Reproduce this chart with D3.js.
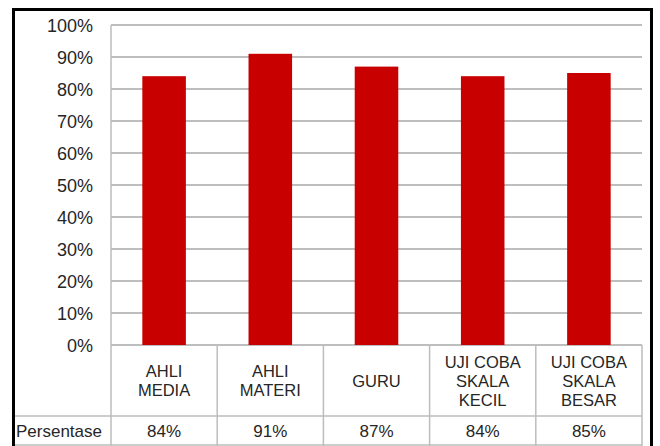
<!DOCTYPE html>
<html>
<head>
<meta charset="utf-8">
<script src="https://cdn.jsdelivr.net/npm/d3@7"></script>
<style>
  html, body { margin: 0; padding: 0; background: #fff; }
  svg { display: block; font-family: "Liberation Sans", Arial, sans-serif; }
</style>
</head>
<body>
<svg id="chart" width="660" height="446"></svg>
<script>
// Chart data
const categories = [
  ['AHLI', 'MEDIA'],
  ['AHLI', 'MATERI'],
  ['GURU'],
  ['UJI COBA', 'SKALA', 'KECIL'],
  ['UJI COBA', 'SKALA', 'BESAR']
];
const values = [0.84, 0.91, 0.87, 0.84, 0.85];
const seriesName = 'Persentase';
const yTicks = [0, 0.1, 0.2, 0.3, 0.4, 0.5, 0.6, 0.7, 0.8, 0.9, 1.0];

const svg = d3.select('#chart');
const plot = { left: 111, right: 642, top: 25, bottom: 345 };
const rowCat = 416;   // bottom of category row
const rowVal = 446;   // bottom of value row
const frameLeft = 14;
const textColor = '#262626';
const gridColor = '#a8a8a8';
const tableColor = '#bdbdbd';

const idx = d3.range(categories.length);

// cell scale (no padding) and bar scale (same step, bars centred)
const xCell = d3.scaleBand().domain(idx).range([plot.left, plot.right]);
const xBar = d3.scaleBand().domain(idx).range([plot.left, plot.right])
  .paddingInner(0.59).paddingOuter(0.295);
const y = d3.scaleLinear().domain([0, 1]).range([plot.bottom, plot.top]);

// gridlines
svg.append('g')
  .selectAll('line')
  .data(yTicks)
  .join('line')
  .attr('x1', plot.left).attr('x2', plot.right)
  .attr('y1', d => y(d)).attr('y2', d => y(d))
  .attr('stroke', gridColor).attr('stroke-width', 1.5);

// y axis line
svg.append('line')
  .attr('x1', plot.left).attr('x2', plot.left)
  .attr('y1', plot.top).attr('y2', rowVal)
  .attr('stroke', tableColor).attr('stroke-width', 1.5);

// y tick labels
svg.append('g')
  .selectAll('text')
  .data(yTicks)
  .join('text')
  .attr('x', 93)
  .attr('y', d => y(d) + 6.5)
  .attr('text-anchor', 'end')
  .attr('font-size', 18)
  .attr('fill', textColor)
  .text(d3.format('.0%'));

// bars
svg.append('g')
  .selectAll('rect')
  .data(values)
  .join('rect')
  .attr('x', (d, i) => xBar(i))
  .attr('width', xBar.bandwidth())
  .attr('y', d => y(d))
  .attr('height', d => y(0) - y(d))
  .attr('fill', '#c80000');

// data table lines
const table = svg.append('g')
  .attr('stroke', tableColor).attr('stroke-width', 1.5);
table.selectAll('line.v')
  .data(idx.map(i => xCell(i) + xCell.bandwidth()))
  .join('line')
  .attr('class', 'v')
  .attr('x1', d => d).attr('x2', d => d)
  .attr('y1', plot.bottom).attr('y2', rowVal);
table.append('line')
  .attr('x1', frameLeft).attr('x2', plot.right)
  .attr('y1', rowCat).attr('y2', rowCat);
table.append('line')
  .attr('x1', frameLeft).attr('x2', plot.right)
  .attr('y1', rowVal - 1).attr('y2', rowVal - 1);

// category labels
const lineH = 19;
svg.append('g')
  .selectAll('text')
  .data(categories)
  .join('text')
  .attr('text-anchor', 'middle')
  .attr('font-size', 16.5)
  .attr('fill', textColor)
  .each(function (lines, i) {
    const cx = xCell(i) + xCell.bandwidth() / 2;
    const mid = (plot.bottom + rowCat) / 2;
    const first = mid - (lines.length - 1) * lineH / 2 + 6;
    d3.select(this).selectAll('tspan')
      .data(lines)
      .join('tspan')
      .attr('x', cx)
      .attr('y', (d, j) => first + j * lineH)
      .text(d => d);
  });

// value row
svg.append('text')
  .attr('x', 16).attr('y', 437)
  .attr('font-size', 17)
  .attr('fill', textColor)
  .text(seriesName);
svg.append('g')
  .selectAll('text')
  .data(values)
  .join('text')
  .attr('x', (d, i) => xCell(i) + xCell.bandwidth() / 2)
  .attr('y', 437)
  .attr('text-anchor', 'middle')
  .attr('font-size', 17)
  .attr('fill', textColor)
  .text(d3.format('.0%'));

// outer frame
svg.append('rect')
  .attr('x', frameLeft - 0.5).attr('y', 9.5)
  .attr('width', 652 - frameLeft).attr('height', 450)
  .attr('fill', 'none')
  .attr('stroke', '#000').attr('stroke-width', 3);
</script>
</body>
</html>
